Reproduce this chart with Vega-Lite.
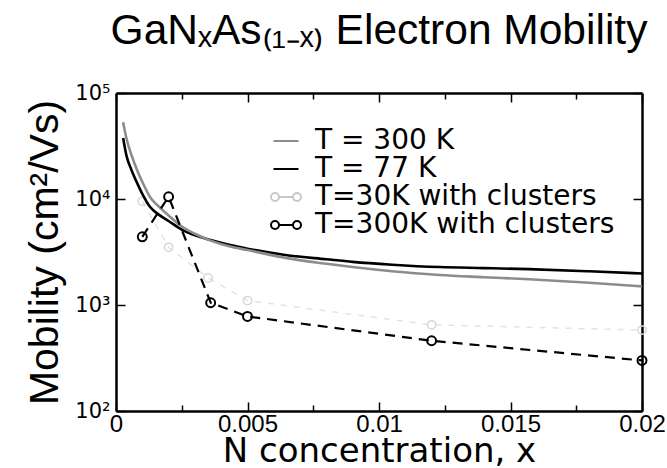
{
  "$schema": "https://vega.github.io/schema/vega-lite/v6.json",
  "autosize": {"type": "none"},
  "width": 526,
  "height": 318,
  "padding": {"left": 116, "top": 93, "right": 25, "bottom": 57},
  "background": "white",
  "title": {
    "text": "GaNₓAs₍₁₋ₓ₎ Electron Mobility",
    "anchor": "middle",
    "frame": "group",
    "font": "Liberation Sans",
    "fontSize": 42.5,
    "fontWeight": "normal",
    "color": "black",
    "baseline": "alphabetic",
    "offset": -4
  },
  "config": {
    "view": {"stroke": null},
    "font": "Liberation Sans",
    "axis": {
      "domainColor": "black",
      "domainWidth": 2.5,
      "tickColor": "black",
      "tickWidth": 1.5,
      "grid": false,
      "labelColor": "black",
      "titleColor": "black",
      "labelFont": "Liberation Sans",
      "titleFont": "Liberation Sans",
      "titleFontWeight": "normal"
    }
  },
  "datasets": {
    "curves": [
      {"series": "T = 77 K", "x": 0.00027, "mobility": 37600},
      {"series": "T = 77 K", "x": 0.0004, "mobility": 25500},
      {"series": "T = 77 K", "x": 0.0006, "mobility": 18500},
      {"series": "T = 77 K", "x": 0.0008, "mobility": 14200},
      {"series": "T = 77 K", "x": 0.001, "mobility": 11200},
      {"series": "T = 77 K", "x": 0.0013, "mobility": 8400},
      {"series": "T = 77 K", "x": 0.0016, "mobility": 7200},
      {"series": "T = 77 K", "x": 0.002, "mobility": 6200},
      {"series": "T = 77 K", "x": 0.0025, "mobility": 5150},
      {"series": "T = 77 K", "x": 0.003, "mobility": 4550},
      {"series": "T = 77 K", "x": 0.0036, "mobility": 4100},
      {"series": "T = 77 K", "x": 0.0043, "mobility": 3700},
      {"series": "T = 77 K", "x": 0.005, "mobility": 3400},
      {"series": "T = 77 K", "x": 0.0065, "mobility": 2950},
      {"series": "T = 77 K", "x": 0.008, "mobility": 2700},
      {"series": "T = 77 K", "x": 0.009, "mobility": 2550},
      {"series": "T = 77 K", "x": 0.0105, "mobility": 2400},
      {"series": "T = 77 K", "x": 0.0123, "mobility": 2280},
      {"series": "T = 77 K", "x": 0.014, "mobility": 2230},
      {"series": "T = 77 K", "x": 0.0157, "mobility": 2180},
      {"series": "T = 77 K", "x": 0.018, "mobility": 2080},
      {"series": "T = 77 K", "x": 0.02, "mobility": 1980},
      {"series": "T = 300 K", "x": 0.00027, "mobility": 53000},
      {"series": "T = 300 K", "x": 0.0004, "mobility": 37000},
      {"series": "T = 300 K", "x": 0.0006, "mobility": 25500},
      {"series": "T = 300 K", "x": 0.0008, "mobility": 18800},
      {"series": "T = 300 K", "x": 0.001, "mobility": 14500},
      {"series": "T = 300 K", "x": 0.0013, "mobility": 10400},
      {"series": "T = 300 K", "x": 0.0016, "mobility": 8600},
      {"series": "T = 300 K", "x": 0.002, "mobility": 7000},
      {"series": "T = 300 K", "x": 0.0025, "mobility": 5500},
      {"series": "T = 300 K", "x": 0.003, "mobility": 4700},
      {"series": "T = 300 K", "x": 0.0036, "mobility": 4050},
      {"series": "T = 300 K", "x": 0.0043, "mobility": 3580},
      {"series": "T = 300 K", "x": 0.005, "mobility": 3300},
      {"series": "T = 300 K", "x": 0.0065, "mobility": 2770},
      {"series": "T = 300 K", "x": 0.008, "mobility": 2450},
      {"series": "T = 300 K", "x": 0.009, "mobility": 2280},
      {"series": "T = 300 K", "x": 0.0105, "mobility": 2080},
      {"series": "T = 300 K", "x": 0.0123, "mobility": 1920},
      {"series": "T = 300 K", "x": 0.014, "mobility": 1830},
      {"series": "T = 300 K", "x": 0.0157, "mobility": 1750},
      {"series": "T = 300 K", "x": 0.018, "mobility": 1620},
      {"series": "T = 300 K", "x": 0.02, "mobility": 1500}
    ],
    "clusters30": [
      {"series": "T=30K with clusters", "x": 0.001, "mobility": 9500},
      {"series": "T=30K with clusters", "x": 0.002, "mobility": 3500},
      {"series": "T=30K with clusters", "x": 0.0035, "mobility": 1800},
      {"series": "T=30K with clusters", "x": 0.005, "mobility": 1100},
      {"series": "T=30K with clusters", "x": 0.012, "mobility": 650},
      {"series": "T=30K with clusters", "x": 0.02, "mobility": 580}
    ],
    "clusters300": [
      {"series": "T=300K with clusters", "x": 0.001, "mobility": 4400},
      {"series": "T=300K with clusters", "x": 0.002, "mobility": 10500},
      {"series": "T=300K with clusters", "x": 0.0036, "mobility": 1050},
      {"series": "T=300K with clusters", "x": 0.005, "mobility": 780},
      {"series": "T=300K with clusters", "x": 0.012, "mobility": 460},
      {"series": "T=300K with clusters", "x": 0.02, "mobility": 300}
    ]
  },
  "resolve": {"axis": {"x": "independent", "y": "independent"}},
  "layer": [
    {
      "data": {"name": "clusters30"},
      "mark": {"type": "line", "stroke": "#e3e3e3", "strokeWidth": 1.5, "strokeDash": [6, 7], "point": {"filled": false, "stroke": "#d8d8d8", "size": 70, "strokeWidth": 1.5}},
      "encoding": {
        "x": {"field": "x", "type": "quantitative", "axis": null},
        "y": {"field": "mobility", "type": "quantitative", "axis": null}
      }
    },
    {
      "data": {"name": "curves"},
      "mark": {"type": "line", "strokeWidth": 2.6, "interpolate": "monotone"},
      "encoding": {
        "x": {
          "field": "x", "type": "quantitative",
          "scale": {"domain": [0, 0.02], "nice": false, "zero": false},
          "axis": {
            "orient": "bottom",
            "values": [0, 0.0025, 0.005, 0.0075, 0.01, 0.0125, 0.015, 0.0175, 0.02],
            "tickSize": {"condition": {"test": "round(datum.value * 400) % 2 == 0", "value": -9}, "value": -6},
            "labelExpr": "round(datum.value * 400) % 2 == 0 ? (datum.value == 0 ? '0' : format(datum.value, '.3~f')) : ''",
            "labelFontSize": 24,
            "labelPadding": 10,
            "labelFlush": false,
            "labelOverlap": false,
            "title": "N concentration, x",
            "titleFont": "DejaVu Sans",
            "titleFontSize": 34,
            "titlePadding": -5
          }
        },
        "y": {
          "field": "mobility", "type": "quantitative",
          "scale": {"type": "log", "domain": [100, 100000], "nice": false},
          "axis": {
            "orient": "left",
            "values": [100, 1000, 10000, 100000],
            "tickSize": -9,
            "labelExpr": "'10' + (datum.value > 50000 ? '⁵' : datum.value > 5000 ? '⁴' : datum.value > 500 ? '³' : '²')",
            "labelFont": "DejaVu Sans",
            "labelFontSize": 21,
            "labelPadding": 15,
            "labelFlush": false,
            "labelOverlap": false,
            "title": "Mobility (cm²/Vs)",
            "titleFontSize": 41,
            "titlePadding": 8
          }
        },
        "color": {
          "field": "series", "type": "nominal",
          "scale": {
            "domain": ["T = 300 K", "T = 77 K", "T=30K with clusters", "T=300K with clusters"],
            "range": ["#8c8c8c", "#000000", "#c8c8c8", "#000000"]
          },
          "legend": {
            "title": null,
            "orient": "none",
            "legendX": 156,
            "legendY": 34,
            "padding": 0,
            "labelFont": "DejaVu Sans",
            "labelFontSize": 28,
            "labelColor": "black",
            "labelLimit": 500,
            "labelOffset": 15,
            "rowPadding": -8,
            "symbolSize": 400,
            "symbolStrokeWidth": 2,
            "symbolFillColor": "transparent",
            "encode": {
              "symbols": {
                "update": {
                  "shape": {"signal": "datum.value == 'T = 300 K' || datum.value == 'T = 77 K' ? 'M-1.25,0 L1.25,0' : 'M-1.5,0 a0.4,0.4 0 1,0 0.8,0 a0.4,0.4 0 1,0 -0.8,0 M-0.7,0 L0.7,0 M0.7,0 a0.4,0.4 0 1,0 0.8,0 a0.4,0.4 0 1,0 -0.8,0'"},
                  "fill": {"value": "transparent"},
                  "strokeWidth": {"value": 2}
                }
              }
            }
          }
        },
        "detail": {"field": "series"}
      }
    },
    {
      "data": {"name": "clusters300"},
      "mark": {"type": "line", "stroke": "black", "strokeWidth": 2.2, "strokeDash": [10, 7]},
      "encoding": {
        "x": {"field": "x", "type": "quantitative", "axis": null},
        "y": {"field": "mobility", "type": "quantitative", "axis": null}
      }
    },
    {
      "data": {"name": "clusters300"},
      "mark": {"type": "point", "filled": false, "size": 80, "strokeWidth": 2, "opacity": 1},
      "encoding": {
        "x": {
          "field": "x", "type": "quantitative",
          "axis": {
            "orient": "top",
            "values": [0, 0.0025, 0.005, 0.0075, 0.01, 0.0125, 0.015, 0.0175, 0.02],
            "tickSize": {"condition": {"test": "round(datum.value * 400) % 2 == 0", "value": -9}, "value": -6},
            "labels": false,
            "title": null
          }
        },
        "y": {
          "field": "mobility", "type": "quantitative",
          "axis": {
            "orient": "right",
            "values": [100, 1000, 10000, 100000],
            "tickSize": -9,
            "labels": false,
            "title": null
          }
        },
        "color": {
          "field": "series", "type": "nominal",
          "scale": {
            "domain": ["T = 300 K", "T = 77 K", "T=30K with clusters", "T=300K with clusters"],
            "range": ["#8c8c8c", "#000000", "#c8c8c8", "#000000"]
          }
        }
      }
    }
  ]
}
